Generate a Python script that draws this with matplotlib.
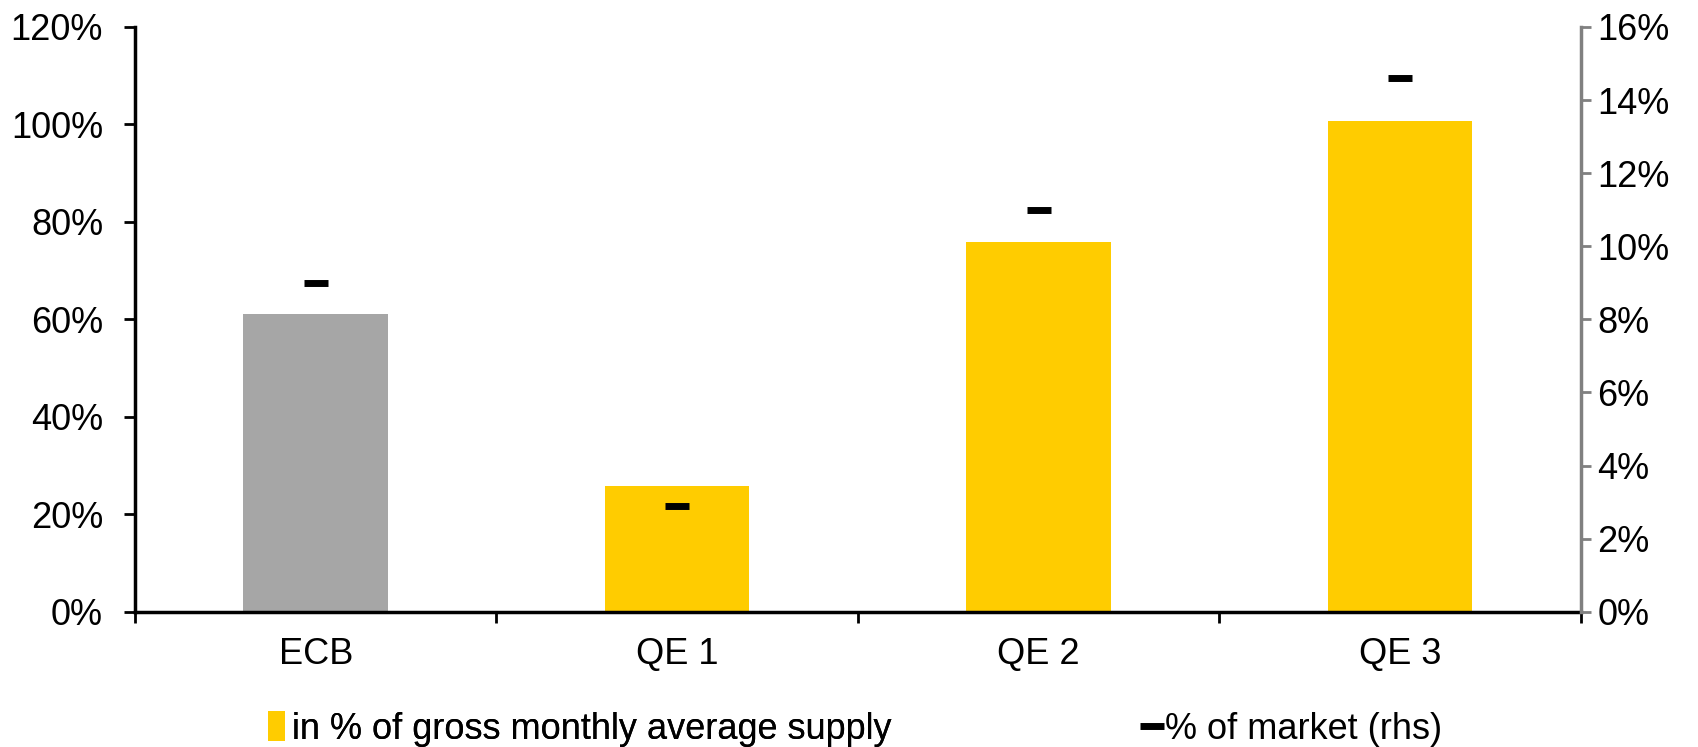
#!/usr/bin/env python3
import matplotlib

matplotlib.use("Agg")
import matplotlib.pyplot as plt
from matplotlib.lines import Line2D
from matplotlib.patches import Patch
from matplotlib.ticker import FuncFormatter

categories = ["ECB", "QE 1", "QE 2", "QE 3"]
supply_share = [61.1, 25.8, 75.8, 100.7]
market_share = [9.0, 2.9, 11.0, 14.6]
bar_colors = ["#A6A6A6", "#FFCC00", "#FFCC00", "#FFCC00"]


def main() -> None:
    matplotlib.rcParams["font.family"] = ["Liberation Sans", "DejaVu Sans"]
    matplotlib.rcParams["font.size"] = 26

    fig = plt.figure(figsize=(16.98, 7.47), dpi=100)
    ax = fig.add_axes([0.0795, 0.181, 0.8515, 0.783])
    x = list(range(len(categories)))

    ax.bar(x, supply_share, width=0.4, color=bar_colors, zorder=2)
    ax.set_xlim(-0.5, len(categories) - 0.5)
    ax.set_ylim(0, 120)
    ax.set_yticks(range(0, 121, 20))
    ax.yaxis.set_major_formatter(FuncFormatter(lambda v, p: f"{v:.0f}%"))

    ax.set_xticks([i - 0.5 for i in range(len(categories) + 1)])
    ax.set_xticklabels([])
    ax.set_xticks(x, minor=True)
    ax.set_xticklabels(categories, minor=True)
    ax.tick_params(axis="x", which="major", direction="out", length=8, width=2, color="black")
    ax.tick_params(axis="x", which="minor", length=0, pad=18)
    ax.tick_params(axis="y", direction="out", length=8, width=2, color="black", pad=15)

    for side in ["top", "right"]:
        ax.spines[side].set_visible(False)
    ax.spines["left"].set_linewidth(2.5)
    ax.spines["bottom"].set_linewidth(2.5)

    ax2 = ax.twinx()
    ax2.plot(x, market_share, linestyle="none", marker="_", markersize=17,
             markeredgewidth=5, color="black", zorder=3)
    ax2.set_ylim(0, 16)
    ax2.set_yticks(range(0, 17, 2))
    ax2.yaxis.set_major_formatter(FuncFormatter(lambda v, p: f"{v:.0f}%"))
    ax2.tick_params(axis="y", direction="out", length=7, width=2, color="#808080", pad=5)
    for side in ["top", "left", "bottom"]:
        ax2.spines[side].set_visible(False)
    ax2.spines["right"].set_color("#808080")
    ax2.spines["right"].set_linewidth(2.5)

    leg1 = fig.legend(
        handles=[Patch(facecolor="#FFCC00", edgecolor="none")],
        labels=["in % of gross monthly average supply"],
        loc="center left", bbox_to_anchor=(0.158, 0.024), frameon=False,
        handlelength=0.45, handleheight=0.9, handletextpad=0.2, borderaxespad=0,
        borderpad=0,
    )
    fig.add_artist(leg1)
    fig.legend(
        handles=[Line2D([], [], linestyle="none", marker="_", markersize=17,
                        markeredgewidth=5, color="black")],
        labels=["% of market (rhs)"],
        loc="center left", bbox_to_anchor=(0.672, 0.024), frameon=False,
        handlelength=0.6, handletextpad=0.05, borderaxespad=0, borderpad=0,
    )

    fig.savefig("out.png", dpi=100)
    plt.close(fig)


if __name__ == "__main__":
    main()
